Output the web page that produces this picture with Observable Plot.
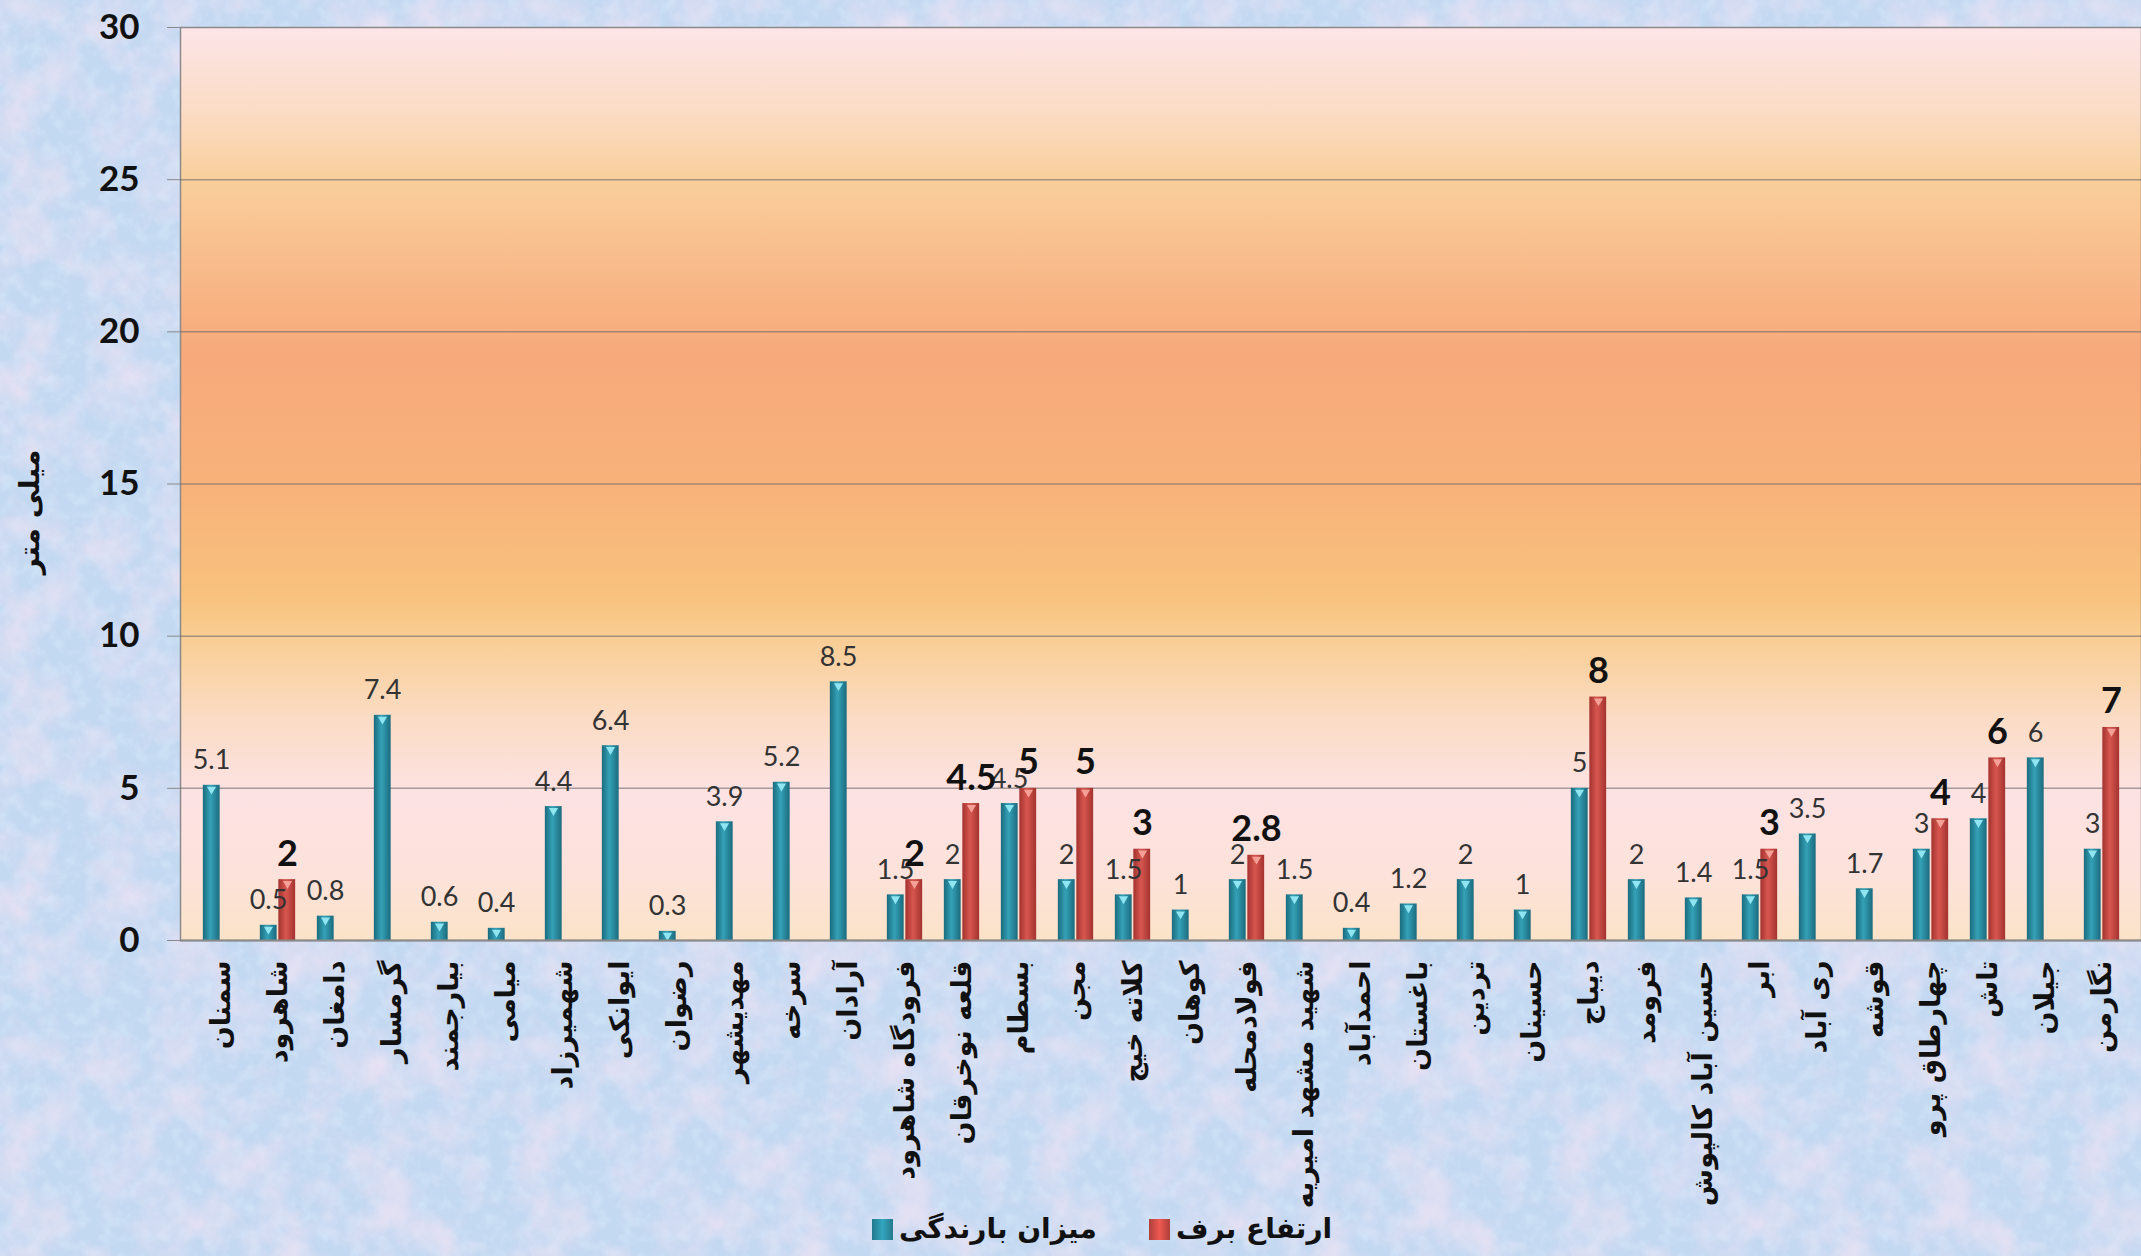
<!DOCTYPE html>
<html>
<head>
<meta charset="utf-8">
<script src="https://cdn.jsdelivr.net/npm/d3@7"></script>
<script src="https://cdn.jsdelivr.net/npm/@observablehq/plot@0.6"></script>
<style>
  html, body { margin: 0; padding: 0; }
  body { width: 2141px; height: 1256px; overflow: hidden; position: relative; background-color: #c3d8f1; }
  #chart { position: absolute; left: 0; top: 0; }
  #legend { position: absolute; left: 872px; top: 1207px; display: flex; align-items: center; direction: ltr;
            font: bold 28px "DejaVu Sans", sans-serif; color: #111; line-height: 44px; }
  #legend .item { display: flex; align-items: center; margin-right: 52px; }
  #legend .sw { width: 21px; height: 21px; margin-right: 6px; }
</style>
</head>
<body>
<div id="chart"></div>
<div id="legend"></div>
<script>
// ---------------- data ----------------
const stations = [
  "سمنان", "شاهرود", "دامغان", "گرمسار", "بیارجمند", "میامی", "شهمیرزاد", "ایوانکی", "رضوان", "مهدیشهر",
  "سرخه", "آرادان", "فرودگاه شاهرود", "قلعه نوخرقان", "بسطام", "مجن", "کلاته خیج", "کوهان", "فولادمحله", "شهید مشهد امیریه",
  "احمدآباد", "باغستان", "تردین", "حسینان", "دیباج", "فرومد", "حسین آباد کالپوش", "ابر", "ری آباد", "قوشه",
  "چهارطاق پرو", "تاش", "جیلان", "نگارمن"
];
const rainfall = [
  5.1, 0.5, 0.8, 7.4, 0.6, 0.4, 4.4, 6.4, 0.3, 3.9,
  5.2, 8.5, 1.5, 2, 4.5, 2, 1.5, 1, 2, 1.5,
  0.4, 1.2, 2, 1, 5, 2, 1.4, 1.5, 3.5, 1.7,
  3, 4, 6, 3
];
const snowDepth = [
  null, 2, null, null, null, null, null, null, null, null,
  null, null, 2, 4.5, 5, 5, 3, null, 2.8, null,
  null, null, null, null, 8, null, null, 3, null, null,
  4, 6, null, 7
];
const seriesNames = ["میزان بارندگی", "ارتفاع برف"];
const yTicks = [0, 5, 10, 15, 20, 25, 30];
const yTitle = "میلی متر";

// ---------------- layout ----------------
const W = 2141, H = 1200;
const mL = 180, mR = 0, mT = 27, mB = 260;
const step = (W - mL - mR) / stations.length;
const barW = 18;

const rainRows = stations.map((s, i) => ({station: s, value: rainfall[i]}));
const snowRows = stations.map((s, i) => ({station: s, value: snowDepth[i]})).filter(d => d.value != null);

const blueInset = {insetLeft: step / 2 - barW, insetRight: step / 2 + 0.5};
const redInset = {insetLeft: step / 2 + 0.5, insetRight: step / 2 - barW};

const chart = Plot.plot({
  width: W,
  height: H,
  marginLeft: mL, marginRight: mR, marginTop: mT, marginBottom: mB,
  style: {background: "transparent", overflow: "visible", fontFamily: "Lato, 'DejaVu Sans', sans-serif", color: "#111"},
  x: {type: "band", domain: stations, padding: 0, label: null},
  y: {domain: [0, 30], label: null},
  marks: [
    Plot.frame({fill: "url(#plotGrad)", stroke: "#8a8a8a", strokeWidth: 1.5}),
    Plot.ruleY(yTicks.filter(d => d > 0 && d < 30), {stroke: "#6b6b6b", strokeOpacity: 0.6, strokeWidth: 1.5}),
    Plot.barY(rainRows, {x: "station", y: "value", fill: "url(#gBlue)", ...blueInset}),
    Plot.barY(snowRows, {x: "station", y: "value", fill: "url(#gRed)", ...redInset}),
    Plot.dot(rainRows, {x: "station", y: "value", symbol: "triangle", rotate: 180, r: 3.4, dx: -(barW / 2) - 0.5, dy: 4, fill: "#8fe6f2", stroke: "none"}),
    Plot.dot(snowRows, {x: "station", y: "value", symbol: "triangle", rotate: 180, r: 3.4, dx: barW / 2 + 0.5, dy: 4, fill: "#f4a096", stroke: "none"}),
    Plot.ruleY([0], {stroke: "#8a8a8a", strokeWidth: 2}),
    Plot.text(rainRows, {x: "station", y: "value", text: d => String(d.value), dx: -(barW / 2) - 0.5, dy: -16,
      lineAnchor: "bottom", fontSize: 27, fill: "#333", fontFamily: "Lato, sans-serif"}),
    Plot.text(snowRows, {x: "station", y: "value", text: d => String(d.value), dx: barW / 2 + 0.5, dy: -14,
      lineAnchor: "bottom", fontSize: 36, fontWeight: "bold", fill: "#111", fontFamily: "Lato, sans-serif"}),
    Plot.axisY({ticks: yTicks, tickSize: 13, tickPadding: 28, fontSize: 35, fontWeight: "bold",
      fontFamily: "Lato, sans-serif", stroke: "#8a8a8a", label: null}),
    Plot.axisX({tickRotate: -90, tickSize: 0, tickPadding: 20, fontSize: 27, fontWeight: "bold",
      fontFamily: "'DejaVu Sans', sans-serif", label: null}),
    Plot.text([yTitle], {text: d => d, frameAnchor: "left", textAnchor: "middle", dx: -150, dy: 28, rotate: -90, fontSize: 28,
      fontWeight: "bold", fontFamily: "'DejaVu Sans', sans-serif", fill: "#111"})
  ]
});

// gradients
const svg = d3.select(chart.tagName.toLowerCase() === "svg" ? chart : chart.querySelector("svg"));
const defs = svg.insert("defs", ":first-child");
const pg = defs.append("linearGradient").attr("id", "plotGrad").attr("x1", 0).attr("y1", 0).attr("x2", 0).attr("y2", 1);
[[0, "#fde5e8"], [0.09, "#fbdcc6"], [0.165, "#f9cf9c"], [0.3, "#f8b383"], [0.36, "#f7a97b"], [0.5, "#f8b27a"],
 [0.62, "#f8c17d"], [0.665, "#f9cd92"], [0.76, "#fbdcc6"], [0.84, "#fde2e3"], [0.93, "#fce2da"], [1, "#fbe3c8"]]
  .forEach(([o, c]) => pg.append("stop").attr("offset", o).attr("stop-color", c));
function hGrad(id, edge, mid) {
  const g = defs.append("linearGradient").attr("id", id).attr("x1", 0).attr("y1", 0).attr("x2", 1).attr("y2", 0);
  [[0, edge], [0.45, mid], [1, edge]].forEach(([o, c]) => g.append("stop").attr("offset", o).attr("stop-color", c));
}
hGrad("gBlue", "#1b6b7e", "#35a1b6");
hGrad("gRed", "#a3332f", "#d8564f");

document.getElementById("chart").appendChild(chart);

// legend
const legendColors = ["#2a8ba0", "#c84a44"];
const legend = d3.select("#legend");
seriesNames.forEach((name, i) => {
  const it = legend.append("div").attr("class", "item");
  it.append("div").attr("class", "sw").style("background", `linear-gradient(90deg, ${d3.color(legendColors[i]).darker(0.4)}, ${d3.color(legendColors[i]).brighter(0.5)}, ${d3.color(legendColors[i]).darker(0.4)})`);
  it.append("span").attr("dir", "rtl").text(name);
});

// marbled page background
const tex = `<svg xmlns='http://www.w3.org/2000/svg' width='520' height='520'>
<filter id='n' x='0' y='0' width='100%' height='100%'>
<feTurbulence type='fractalNoise' baseFrequency='0.02' numOctaves='5' seed='7' stitchTiles='stitch'/>
<feColorMatrix values='0 0 0 0 0.85  0 0 0 0 0.76  0 0 0 0 0.90  1.8 0 0 0 -0.72'/>
</filter>
<filter id='m' x='0' y='0' width='100%' height='100%'>
<feTurbulence type='fractalNoise' baseFrequency='0.07' numOctaves='3' seed='2' stitchTiles='stitch'/>
<feColorMatrix values='0 0 0 0 0.68  0 0 0 0 0.82  0 0 0 0 0.96  0 1.3 0 0 -0.55'/>
</filter>
<rect width='100%' height='100%' filter='url(#m)'/>
<rect width='100%' height='100%' filter='url(#n)'/>
</svg>`;
document.body.style.backgroundImage = `url("data:image/svg+xml,${encodeURIComponent(tex)}")`;
</script>
</body>
</html>
